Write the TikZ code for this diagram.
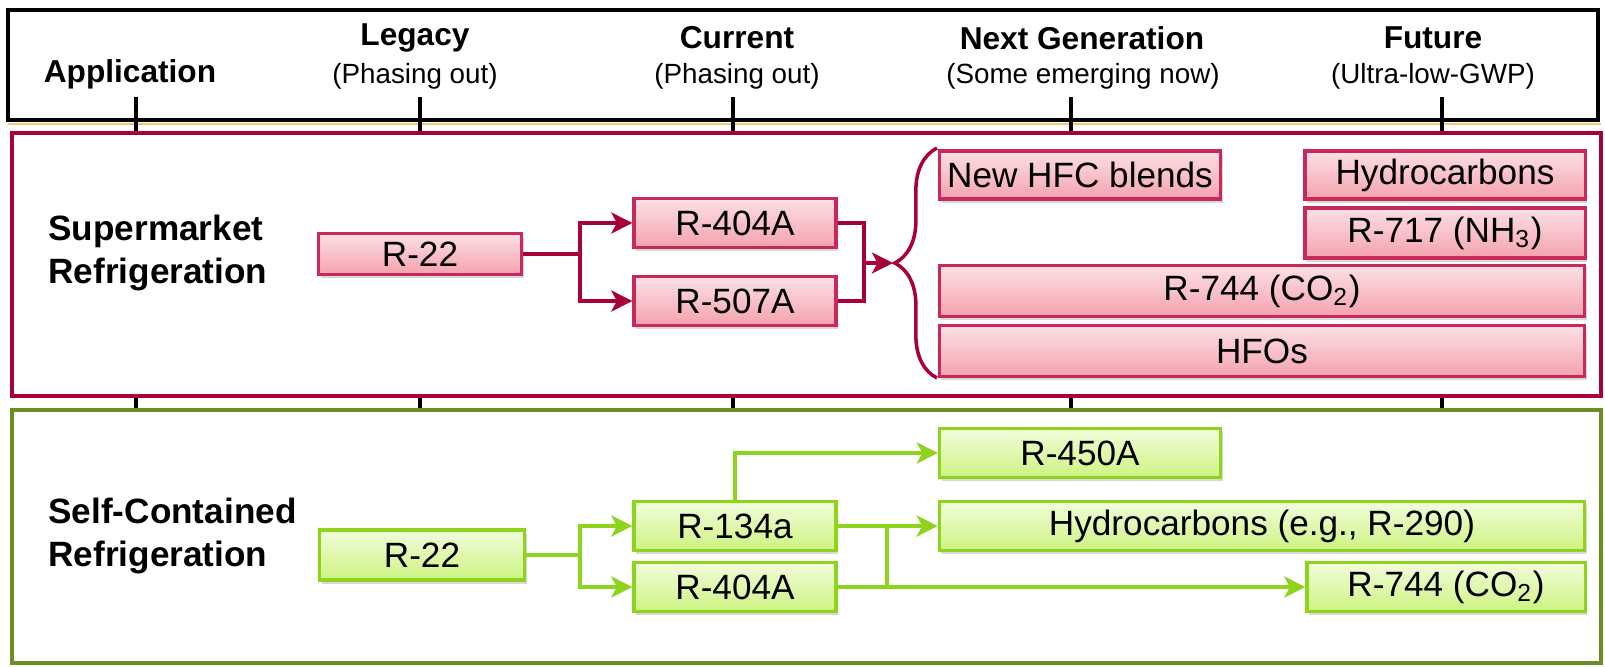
\documentclass[tikz,border=0pt]{standalone}
\usepackage{fontspec}
\setmainfont{Liberation Sans}
\usetikzlibrary{arrows.meta}
\usetikzlibrary{shadows}
\usetikzlibrary{decorations.pathreplacing}
\usetikzlibrary{positioning}

\definecolor{smred}{HTML}{A8003C}
\definecolor{smbox}{HTML}{C8285A}
\definecolor{smtop}{HTML}{FCE0E5}
\definecolor{smbot}{HTML}{F4A2AE}
\definecolor{scgreen}{HTML}{6B8E23}
\definecolor{scbox}{HTML}{8FD41C}
\definecolor{sctop}{HTML}{F2FDDC}
\definecolor{scbot}{HTML}{CDF380}
\definecolor{hdrline}{HTML}{F7C56E}

\tikzset{
  gasbox/.style={draw, line width=0.9pt, inner sep=0pt,
    font=\fontsize{10}{12}\selectfont,
    drop shadow={shadow xshift=0.6pt, shadow yshift=-1pt, opacity=0.3}},
  smgas/.style={gasbox, draw=smbox, top color=smtop, bottom color=smbot},
  scgas/.style={gasbox, draw=scbox, top color=sctop, bottom color=scbot},
  smflow/.style={draw=smred, line width=1pt},
  scflow/.style={draw=scbox, line width=1.1pt},
  flowtip/.style={-{Stealth[length=6pt, width=6pt, inset=1.6pt]}},
  tickmark/.style={line width=1.4pt},
  coltitle/.style={font=\fontsize{9}{11}\selectfont\bfseries, align=center},
  colsub/.style={font=\fontsize{7.9}{10}\selectfont, align=center},
  rowtitle/.style={font=\fontsize{10}{12.2}\selectfont\bfseries, align=left, anchor=west},
}

\begin{document}
\begin{tikzpicture}[x=0.01cm, y=-0.01cm]
    \useasboundingbox (0,0) rectangle (1605,666);

    % header band
    \draw [line width=1.4pt, fill=white] (8,10) rectangle (1598,120);
    \draw [hdrline, line width=0.6pt] (8,124) -- (1601,124);
    \foreach \x in {136,420,733,1071,1442} {
      \draw [tickmark] (\x,97) -- (\x,410);
    }
    \draw [smred, line width=1.4pt, fill=white] (12,133) rectangle (1601,396);
    \draw [scgreen, line width=1.4pt, fill=white] (12,410) rectangle (1601,663);

    \node [coltitle] (happ) at (130,74) {Application};
    \node [coltitle] (hleg) at (415,38) {Legacy};
    \node [colsub] (hlegs) at (415,76) {(Phasing out)};
    \node [coltitle] (hcur) at (737,38) {Current};
    \node [colsub] (hcurs) at (737,76) {(Phasing out)};
    \node [coltitle] (hnext) at (1082,38) {Next Generation};
    \node [colsub] (hnexts) at (1083,76) {(Some emerging now)};
    \node [coltitle] (hfut) at (1433,38) {Future};
    \node [colsub] (hfuts) at (1433,76) {(Ultra-low-GWP)};

    % supermarket
    \node [rowtitle] (smlabel) at (36,253) {Supermarket\\Refrigeration};
    \node [smgas, minimum width=2.03cm, minimum height=0.41cm] (sr22) at (420,254) {R-22};
    \node [smgas, minimum width=2.02cm, minimum height=0.49cm] (s404) at (735,223) {R-404A};
    \node [smgas, minimum width=2.02cm, minimum height=0.49cm] (s507) at (735,301) {R-507A};
    \node [smgas, minimum width=2.81cm, minimum height=0.48cm] (snew) at (1080,175) {New HFC blends};
    \node [smgas, minimum width=2.80cm, minimum height=0.48cm] (shc) at (1445,175) {Hydrocarbons};
    \node [smgas, minimum width=2.80cm, minimum height=0.50cm] (s717) at (1445,233) {R-717 (NH\textsubscript{3})};
    \node [smgas, minimum width=6.45cm, minimum height=0.51cm] (s744) at (1262,291) {R-744 (CO\textsubscript{2})};
    \node [smgas, minimum width=6.45cm, minimum height=0.51cm] (shfo) at (1262,351) {HFOs};

    \coordinate (ssplit) at (580,254);
    \coordinate (sjoin) at (864,263);
    \coordinate (btip) at (893,263);
    \coordinate (btop) at (937,148);
    \coordinate (bbot) at (937,378);
    \draw [smflow] (sr22.east) -- (ssplit);
    \draw [smflow, flowtip] (ssplit) |- (s404);
    \draw [smflow, flowtip] (ssplit) |- (s507);
    \draw [smflow] (s404.east) -| (sjoin);
    \draw [smflow] (s507.east) -| (sjoin);
    \draw [smflow, flowtip] (sjoin) -- (btip);
    \draw [smflow, decorate, decoration={brace, amplitude=12pt, aspect=0.5}] (bbot) -- (btop);

    % self-contained
    \node [rowtitle] (sclabel) at (36,536) {Self-Contained\\Refrigeration};
    \node [scgas, minimum width=2.05cm, minimum height=0.50cm] (gr22) at (422,555) {R-22};
    \node [scgas, minimum width=2.02cm, minimum height=0.49cm] (g134) at (735,526) {R-134a};
    \node [scgas, minimum width=2.02cm, minimum height=0.49cm] (g404) at (735,587) {R-404A};
    \node [scgas, minimum width=2.81cm, minimum height=0.49cm] (g450) at (1080,453) {R-450A};
    \node [scgas, minimum width=6.45cm, minimum height=0.49cm] (ghc) at (1262,526) {Hydrocarbons (e.g., R-290)};
    \node [scgas, minimum width=2.78cm, minimum height=0.49cm] (g744) at (1446,587) {R-744 (CO\textsubscript{2})};

    \coordinate (gsplit) at (580,555);
    \coordinate (gup) at (887,526);
    \coordinate (gdown) at (887,587);
    \draw [scflow] (gr22.east) -- (gsplit);
    \draw [scflow, flowtip] (gsplit) |- (g134);
    \draw [scflow, flowtip] (gsplit) |- (g404);
    \draw [scflow, flowtip] (g134.north) |- (g450);
    \draw [scflow, flowtip] (g134.east) -- (ghc);
    \draw [scflow, flowtip] (g404.east) -- (g744);
    \draw [scflow] (gup) -- (gdown);
\end{tikzpicture}
\end{document}
